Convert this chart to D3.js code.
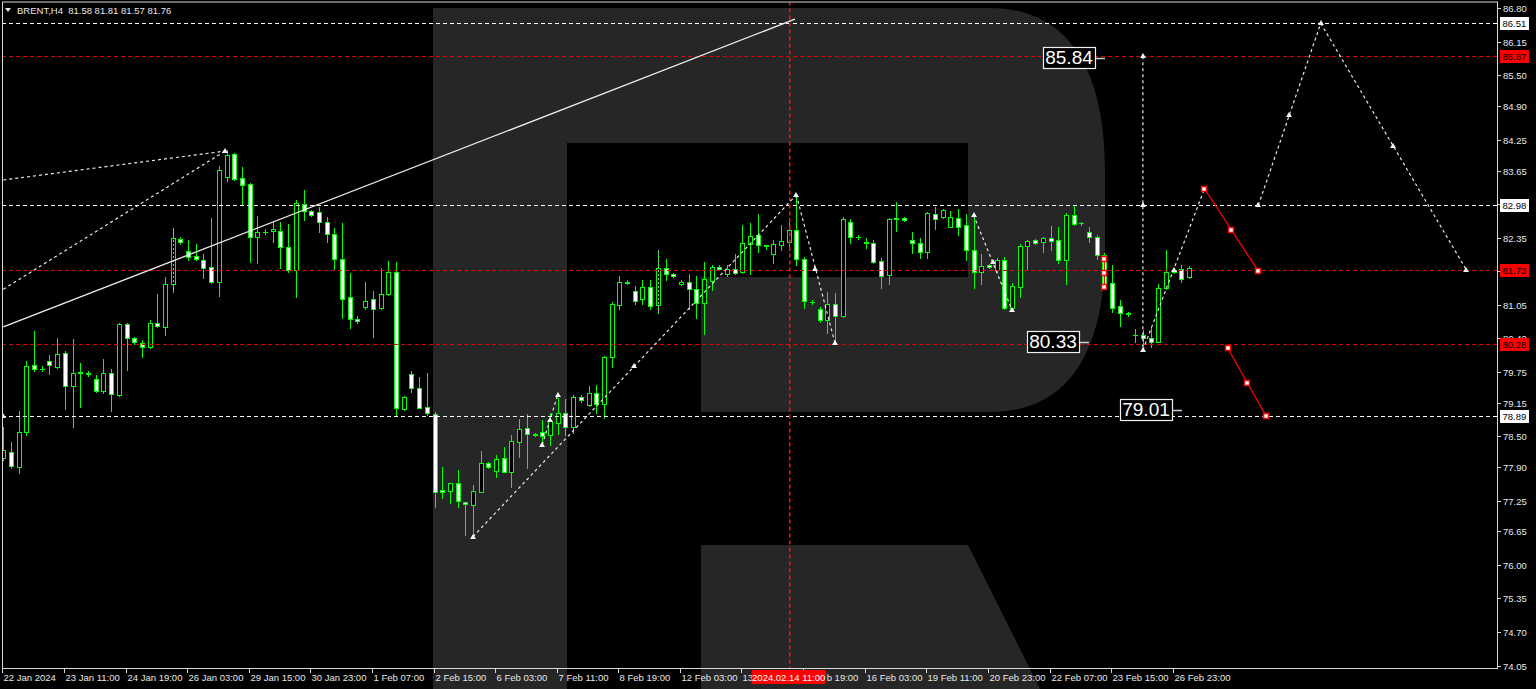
<!DOCTYPE html>
<html><head><meta charset="utf-8">
<script src="https://cdn.jsdelivr.net/npm/d3@7/dist/d3.min.js"></script>
<style>
html,body{margin:0;padding:0;background:#000;overflow:hidden;}
svg{display:block;}
text{font-family:"Liberation Sans",Arial,sans-serif;}
</style></head><body>
<svg id="c" width="1536" height="689"></svg>
<script>
// ---------- DATA ----------
const opens = [78.08,78.19,77.90,78.58,79.88,79.80,79.96,79.84,80.12,79.48,79.75,79.71,79.61,79.38,79.73,79.30,80.68,80.41,80.31,80.23,
80.70,80.62,81.45,82.33,82.09,82.00,81.92,81.78,81.49,83.53,83.98,83.51,83.40,82.37,82.46,82.48,82.48,82.17,81.73,83.01,
82.87,82.85,82.66,82.43,81.94,81.20,80.78,81.01,81.16,80.99,81.26,81.69,79.03,79.71,79.44,79.07,78.93,77.46,77.44,77.59,
77.22,77.17,77.42,77.97,77.83,78.08,77.81,78.39,78.66,78.54,78.58,78.52,78.76,78.95,78.68,79.26,79.11,79.34,79.13,80.04,
81.05,81.48,81.32,81.16,81.40,81.05,81.76,81.65,81.46,81.49,81.36,81.09,81.51,81.78,81.65,81.74,81.69,82.23,82.41,82.20,
82.04,82.21,82.27,82.50,81.94,81.11,80.97,80.76,81.07,80.83,82.66,82.37,82.25,82.25,81.90,81.63,82.72,82.74,82.31,82.25,
82.08,82.81,82.75,82.56,82.73,82.60,82.12,81.69,81.82,81.73,81.92,80.99,81.40,82.19,82.31,82.27,82.35,82.31,81.92,82.79,
82.64,82.46,82.37,82.02,81.48,81.03,80.88,80.47,80.47,80.41,80.33,81.38,81.69,81.75,81.58];
const highs = [78.68,78.39,78.99,79.96,80.54,79.86,80.08,80.41,80.15,80.39,79.92,79.77,79.69,80.00,79.80,80.70,80.70,80.43,80.37,80.76,
81.26,81.59,82.54,82.37,82.31,82.23,82.04,82.73,83.74,84.06,84.00,83.73,83.41,82.77,82.52,82.66,82.66,82.62,83.09,83.28,
82.89,82.95,82.75,82.54,82.64,81.67,80.83,81.49,81.32,81.76,81.90,81.88,79.28,79.77,79.65,79.73,78.97,77.90,77.60,77.84,
77.23,77.55,78.21,77.99,78.14,78.29,78.52,78.84,78.93,78.56,78.82,78.95,79.24,79.22,79.30,79.30,79.48,79.50,80.05,81.11,
81.61,81.52,81.42,81.53,81.53,82.11,81.94,81.67,81.53,81.65,81.61,81.88,81.82,81.82,81.82,82.04,82.60,82.64,82.81,82.21,
82.31,82.60,82.73,83.18,81.98,81.15,81.01,81.30,81.28,82.75,82.72,82.41,82.35,82.31,81.96,82.74,83.05,82.76,82.46,82.35,
82.84,82.95,82.91,82.87,82.91,82.81,82.79,82.04,81.84,81.96,81.98,81.47,82.23,82.31,82.33,82.37,82.58,82.56,82.83,82.99,
82.66,82.56,82.41,82.06,81.82,81.15,80.91,80.58,80.56,80.62,81.45,82.11,81.77,81.82,81.81];
const lows = [78.04,77.88,77.79,78.52,79.77,79.77,79.71,79.83,79.03,78.68,79.07,79.67,79.36,79.34,78.99,79.28,79.79,80.29,80.04,80.21,
80.62,80.47,81.30,82.23,81.92,81.92,81.57,81.47,81.22,83.45,83.47,82.99,81.88,81.86,82.43,82.27,81.77,81.69,81.20,82.70,
82.77,82.46,82.27,81.75,80.80,80.60,80.70,80.97,80.43,80.97,81.24,78.89,79.01,79.36,79.04,78.91,77.13,77.30,77.20,77.13,
76.58,76.55,77.41,77.88,77.71,77.80,77.52,78.10,77.88,78.51,78.39,78.33,78.54,78.52,78.56,79.16,79.09,78.95,78.85,79.84,
80.97,81.46,81.07,81.07,80.97,80.89,81.53,81.59,81.44,80.97,80.79,80.48,81.34,81.73,81.61,81.65,81.67,81.65,82.07,82.13,
81.86,82.12,82.12,81.82,80.99,81.07,80.72,80.50,80.31,80.81,82.25,82.33,82.15,81.86,81.38,81.45,82.48,82.68,82.06,81.96,
81.96,82.52,82.73,82.55,82.41,81.92,81.38,81.45,81.76,81.69,80.97,80.95,81.20,81.73,82.23,82.08,82.12,81.86,81.45,82.60,
82.60,82.27,81.94,81.42,80.91,80.64,80.83,80.33,80.27,80.23,80.32,81.36,81.67,81.49,81.57];
const closes = [78.23,77.92,78.58,79.86,79.80,79.81,79.88,80.10,79.48,79.73,79.73,79.72,79.38,79.73,79.32,80.68,80.41,80.33,80.23,80.70,
80.64,81.45,82.35,82.27,81.98,81.94,81.76,81.49,83.67,83.96,83.49,83.38,82.37,82.46,82.47,82.51,82.17,81.73,83.03,82.87,
82.79,82.66,82.43,81.94,81.16,80.78,80.74,81.13,80.97,81.26,81.69,79.05,79.26,79.44,79.05,78.95,77.42,77.42,77.59,77.24,
77.19,77.44,77.97,77.90,78.06,77.81,78.41,78.64,78.54,78.53,78.50,78.80,78.95,78.68,79.26,79.20,79.34,79.13,80.04,81.07,
81.49,81.50,81.13,81.40,81.03,81.76,81.65,81.61,81.49,81.36,81.09,81.55,81.78,81.74,81.74,81.67,82.25,82.39,82.21,82.19,
82.23,82.29,82.50,81.94,81.12,81.10,80.76,81.07,80.83,82.72,82.37,82.36,82.27,81.88,81.61,82.72,82.73,82.70,82.25,82.08,
82.83,82.72,82.89,82.75,82.56,82.12,81.69,81.80,81.78,81.92,80.99,81.42,82.19,82.29,82.25,82.35,82.29,81.92,82.79,82.62,
82.63,82.37,82.02,81.44,80.99,80.89,80.87,80.46,80.41,80.33,81.38,81.69,81.73,81.55,81.76];

// visible tick texts along the time axis (two are partly hidden behind the cursor tag, as in the picture)
const timeLabels = ["22 Jan 2024","23 Jan 11:00","24 Jan 19:00","26 Jan 03:00","29 Jan 15:00","30 Jan 23:00","1 Feb 07:00",
"2 Feb 15:00","6 Feb 03:00","7 Feb 11:00","8 Feb 19:00","12 Feb 03:00","13","b 19:00","16 Feb 03:00",
"19 Feb 11:00","20 Feb 23:00","22 Feb 07:00","23 Feb 15:00","26 Feb 23:00"];
const timeLabelBars = [0,8,16,24,32,40,48,56,64,72,80,88,96,104,112,120,128,136,144,152];
const priceTicks = [86.80,86.15,85.50,84.90,84.25,83.65,83.00,82.35,81.70,81.05,80.40,79.75,79.15,78.50,77.90,77.25,76.65,76.00,75.35,74.70,74.05];
const levelPrices = [86.51,85.87,82.98,81.73,80.28,78.89];
const levelColors = ["white","red","white","red","red","white"];
const cursorBar = 102, cursorLabel = "2024.02.14 11:00";
const title = "BRENT,H4  81.58 81.81 81.57 81.76";

// drawn objects: [barA, priceA, barB, priceB]
const solidLines = [[0,80.62,102.8,86.59]];
const dashedLines = [[0,83.47,28.8,84.03],[0,81.35,28.8,84.03],[61,76.55,103,83.18],[70,78.33,72,79.30],
  [103,83.18,108,80.31],[126,82.79,131,80.95],[148,85.87,148,80.17],[148,80.17,156,83.30],
  [163,82.98,171.1,86.51],[171.1,86.51,190,81.73]];
const redLines = [[156,83.30,163,81.70],[159,80.21,164,78.89],[143,81.94,143,81.40]];
const whiteMarks = [[28.8,84.03],[61,76.55],[70,78.33],[71,78.81],[72,79.30],[81.9,79.86],[103,83.18],[105.4,81.74],[108,80.31],
  [126,82.79],[128.5,81.88],[131,80.95],[148,85.87],[148,82.98],[148,80.17],[152,81.73],[163,82.98],[167,84.73],[171.1,86.51],
  [180.5,84.13],[190,81.73],[0,78.89]];
const redMarks = [[156,83.30],[159.5,82.50],[163,81.70],[159,80.21],[161.5,79.54],[164,78.89],[143,81.94],[143,81.67],[143,81.40]];
const bigLabels = [["85.84",85.84,141.8],["80.33",80.33,139.7],["79.01",79.01,151.8]];
const selectedBars = [22,85];

// ---------- CHART ----------
const svg = d3.select("#c");
const x = d3.scaleLinear().domain([0,154]).range([3.3,1189.1]);
const y = d3.scaleLinear().domain([74.05,86.80]).range([665.5,8.35]);
const PL=2, PR=1497, PT=1.5, PB=668;
const GREEN="#00ff00", RED="#ff0000", GRAY="#262626";

svg.append("rect").attr("width",1536).attr("height",689).attr("fill","#000");
// watermark R
svg.append("path").attr("fill",GRAY)
  .attr("d","M433,8 L990,8 C1075,8 1105,80 1105,170 L1105,250 C1105,350 1070,412 990,412 L701,412 L701,277 L968,277 L968,143 L567,143 L567,689 L433,689 Z");
svg.append("path").attr("fill",GRAY).attr("d","M701,545 L968,545 L1040,689 L701,689 Z");

const defs = svg.append("defs");
defs.append("clipPath").attr("id","pc").append("rect")
  .attr("x",PL+1).attr("y",PT+1).attr("width",PR-PL-1).attr("height",PB-PT-1);
const g = svg.append("g").attr("clip-path","url(#pc)");

// candles
const idx = d3.range(opens.length);
const cg = g.append("g");
idx.forEach(i=>{
  const cx = Math.round(x(i));
  const o=opens[i], c=closes[i], h=highs[i], l=lows[i];
  cg.append("line").attr("x1",cx+0.5).attr("x2",cx+0.5)
    .attr("y1",Math.round(y(h))).attr("y2",Math.round(y(l))+1).attr("stroke",GREEN).attr("stroke-width",1);
  const top=Math.round(y(Math.max(o,c))), bot=Math.round(y(Math.min(o,c)));
  if (bot-top<1){
    cg.append("line").attr("x1",cx-2).attr("x2",cx+3).attr("y1",top+0.5).attr("y2",top+0.5).attr("stroke",GREEN);
  } else {
    cg.append("rect").attr("x",cx-1.5).attr("y",top+0.5).attr("width",4).attr("height",bot-top)
      .attr("fill", c<o ? "#fff" : "#000").attr("stroke",GREEN).attr("stroke-width",1);
  }
});
selectedBars.forEach(i=>{
  const cx=Math.round(x(i));
  g.append("line").attr("x1",cx+0.5).attr("x2",cx+0.5).attr("y1",y(highs[i])).attr("y2",y(lows[i]))
    .attr("stroke","#b0b0b0").attr("stroke-dasharray","2,2");
});

// level lines
levelPrices.forEach((p,k)=>{
  const yy=Math.round(y(p))+0.5;
  g.append("line").attr("x1",PL).attr("x2",PR).attr("y1",yy).attr("y2",yy)
    .attr("stroke",levelColors[k]==="red"?"#e00000":"#ffffff").attr("stroke-dasharray","4,3");
});
// cursor vertical
const cxr = Math.round(x(cursorBar));
g.append("rect").attr("x",cxr).attr("y",PT).attr("width",1.5).attr("height",PB-PT).attr("fill","none");
g.append("line").attr("x1",cxr+0.75).attr("x2",cxr+0.75).attr("y1",PT).attr("y2",PB).attr("stroke","#ff1010")
  .attr("stroke-width",1.5).attr("stroke-dasharray","4,3");

// objects
solidLines.forEach(s=>g.append("line").attr("x1",x(s[0])).attr("y1",y(s[1])).attr("x2",x(s[2])).attr("y2",y(s[3]))
  .attr("stroke","#f0f0f0").attr("stroke-width",1.3));
dashedLines.forEach(s=>g.append("line").attr("x1",x(s[0])).attr("y1",y(s[1])).attr("x2",x(s[2])).attr("y2",y(s[3]))
  .attr("stroke","#e8e8e8").attr("stroke-width",1.2).attr("stroke-dasharray","3,3"));
redLines.forEach(s=>g.append("line").attr("x1",x(s[0])).attr("y1",y(s[1])).attr("x2",x(s[2])).attr("y2",y(s[3]))
  .attr("stroke",RED).attr("stroke-width",1.3));
whiteMarks.forEach(m=>{
  const px=Math.round(x(m[0])), py=Math.round(y(m[1]));
  g.append("path").attr("d",`M${px-3},${py+2} L${px},${py-3} L${px+3},${py+2} Z`).attr("fill","#f4f4f4");
});
redMarks.forEach(m=>{
  const px=Math.round(x(m[0])), py=Math.round(y(m[1]));
  g.append("rect").attr("x",px-2.5).attr("y",py-2.5).attr("width",5).attr("height",5)
    .attr("fill","#fff").attr("stroke",RED).attr("stroke-width",1.5);
});

// big price labels
bigLabels.forEach(b=>{
  const right=Math.round(x(b[2])), cy=y(b[1]);
  const w=52, h=21;
  g.append("rect").attr("x",right-w+0.5).attr("y",Math.round(cy-h/2)+0.5).attr("width",w).attr("height",h)
    .attr("fill","#000").attr("stroke","#f0f0f0").attr("stroke-width",1.2);
  g.append("text").attr("x",right-w/2).attr("y",cy+6.5).attr("text-anchor","middle")
    .attr("fill","#fff").attr("font-size",19).text(b[0]);
  g.append("line").attr("x1",right+1).attr("x2",right+10).attr("y1",Math.round(cy)+0.5).attr("y2",Math.round(cy)+0.5)
    .attr("stroke","#d0d0d0").attr("stroke-width",1.5);
});

// frame
svg.append("rect").attr("x",PL+0.5).attr("y",PT+0.5).attr("width",PR-PL).attr("height",PB-PT)
  .attr("fill","none").attr("stroke","#d8d8d8").attr("stroke-width",1);

// right axis ticks (labels hidden behind level tags are clipped as in the reference)
const tagRects = levelPrices.map(p=>[Math.round(y(p))-6, Math.round(y(p))+7]);
priceTicks.forEach((p,k)=>{
  const yy=Math.round(y(p))+0.5;
  svg.append("line").attr("x1",PR).attr("x2",PR+4).attr("y1",yy).attr("y2",yy).attr("stroke","#d8d8d8");
  const t0=yy-7, t1=yy+4;
  const hit = tagRects.find(r=>r[0]<t1 && r[1]>t0);
  if (hit){
    if (hit[0]-t0 < 3) return; // fully hidden under a tag
    const cid="tc"+k;
    defs.append("clipPath").attr("id",cid).append("rect").attr("x",PR).attr("y",0).attr("width",40).attr("height",hit[0]);
    svg.append("text").attr("clip-path",`url(#${cid})`).attr("x",PR+6).attr("y",yy+3.5).attr("fill","#e8e8e8").attr("font-size",9.5).text(p.toFixed(2));
  } else {
    svg.append("text").attr("x",PR+6).attr("y",yy+3.5).attr("fill","#e8e8e8").attr("font-size",9.5).text(p.toFixed(2));
  }
});
// level tags
levelPrices.forEach((p,k)=>{
  const yy=Math.round(y(p));
  svg.append("rect").attr("x",PR+3.5).attr("y",yy-5.5).attr("width",28).attr("height",12)
    .attr("fill",levelColors[k]==="red"?RED:"#fff").attr("stroke",levelColors[k]==="red"?RED:"#fff");
  svg.append("text").attr("x",PR+5.5).attr("y",yy+4).attr("fill","#000").attr("font-size",9.5).text(p.toFixed(2));
});

// bottom axis
const cxl = x(cursorBar);
const boxL = cxl-37, boxR = cxl+37;
timeLabels.forEach((t,k)=>{
  const xx=Math.round(x(timeLabelBars[k]))-0.5;
  svg.append("line").attr("x1",xx).attr("x2",xx).attr("y1",PB).attr("y2",PB+5).attr("stroke","#d8d8d8");
  // a label whose start lies under the cursor tag shows only its tail, right of the tag
  const tx = (xx > boxL && xx < boxR) ? boxR + 1 : xx + 1;
  svg.append("text").attr("x",tx).attr("y",681).attr("fill","#e8e8e8").attr("font-size",9.5).text(t);
});
svg.append("rect").attr("x",boxL).attr("y",670).attr("width",74).attr("height",14).attr("fill",RED);
svg.append("text").attr("x",cxl).attr("y",681).attr("text-anchor","middle").attr("fill","#fff").attr("font-size",9.5).text(cursorLabel);

// title
svg.append("path").attr("d","M5,8 L11,8 L8,12 Z").attr("fill","#e8e8e8");
svg.append("text").attr("x",17).attr("y",13.5).attr("fill","#e8e8e8").attr("font-size",9.5).attr("xml:space","preserve").text(title);
</script>
</body></html>
